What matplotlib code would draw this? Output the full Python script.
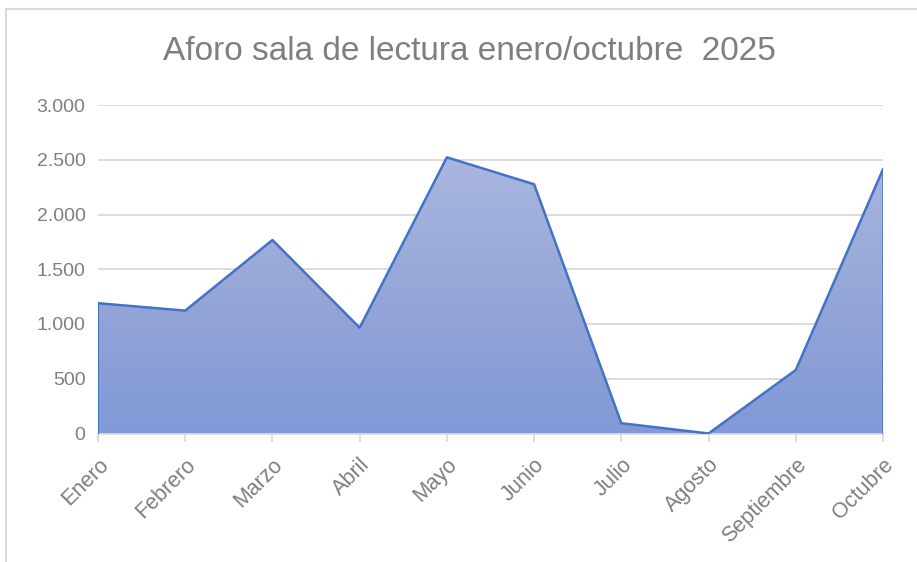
import numpy as np
import matplotlib
matplotlib.use('Agg')
import matplotlib.pyplot as plt
from matplotlib.colors import LinearSegmentedColormap
from matplotlib.ticker import FuncFormatter
from matplotlib.lines import Line2D

plt.rcParams['font.family'] = ['Liberation Sans', 'DejaVu Sans']

meses = ['Enero', 'Febrero', 'Marzo', 'Abril', 'Mayo',
         'Junio', 'Julio', 'Agosto', 'Septiembre', 'Octubre']
aforo = [1190, 1122, 1767, 966, 2522, 2276, 94, 0, 580, 2413]
yticks = [0, 500, 1000, 1500, 2000, 2500, 3000]

fig = plt.figure(figsize=(9.17, 5.62), dpi=100)
ax = fig.add_axes([98 / 917, 1 - 433.5 / 562, 785 / 917, 328.5 / 562])

x = np.arange(len(meses))

# relleno con degradado (claro arriba, oscuro abajo)
cmap = LinearSegmentedColormap.from_list('grad', ['#8199D6', '#95A6D8', '#A9B7DE'])
poly = ax.fill_between(x, aforo, 0, color='none')
grad = np.linspace(0, 1, 256).reshape(-1, 1)
img = ax.imshow(grad, cmap=cmap, aspect='auto', origin='lower',
                extent=[0, len(meses) - 1, 0, max(aforo)], zorder=2)
img.set_clip_path(poly.get_paths()[0], transform=ax.transData)
ax.plot(x, aforo, color='#4472C4', linewidth=1.8, zorder=3)
ax.plot([x[-1], x[-1]], [0, aforo[-1]], color='#4472C4', linewidth=1.8, zorder=3)
ax.plot([x[0], x[0]], [0, aforo[0]], color='#4472C4', linewidth=1.5, zorder=3)

ax.set_xlim(0, len(meses) - 1)
ax.set_ylim(0, 3000)
ax.set_yticks(yticks)
ax.yaxis.set_major_formatter(FuncFormatter(lambda v, p: f'{int(v):,}'.replace(',', '.')))
ax.grid(axis='y', color='#D9D9D9', linewidth=1.3, zorder=0)
ax.set_axisbelow(True)
for s in ['top', 'right', 'left']:
    ax.spines[s].set_visible(False)
ax.spines['bottom'].set_color('#D9D9D9')
ax.spines['bottom'].set_linewidth(1.3)

ax.set_xticks(x)
ax.set_xticklabels(meses, rotation=45, ha='right', va='top', rotation_mode='anchor')
ax.tick_params(axis='x', length=6, color='#D9D9D9', width=1.3, labelsize=15.5,
               labelcolor='#7F7F7F', pad=9)
ax.tick_params(axis='y', length=0, labelsize=14, labelcolor='#7F7F7F', pad=9)

fig.text(469 / 917, 1 - 51 / 562, 'Aforo sala de lectura enero/octubre  2025',
         ha='center', va='center', fontsize=24, color='#7F7F7F')

# borde del gráfico
fig.add_artist(Line2D([6 / 917, 1], [1 - 9 / 562, 1 - 9 / 562], color='#D9D9D9', linewidth=1.5))
fig.add_artist(Line2D([6 / 917, 6 / 917], [0, 1 - 9 / 562], color='#D9D9D9', linewidth=1.5))

fig.savefig('out.png', dpi=100)
